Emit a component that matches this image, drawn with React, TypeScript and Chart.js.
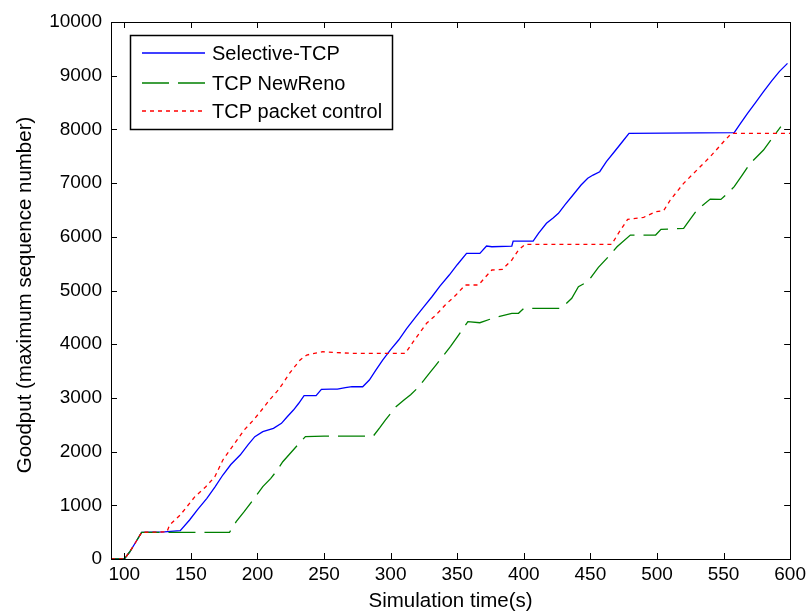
import React, { useEffect, useRef } from "react";
import { Chart, registerables } from "chart.js";

Chart.register(...registerables);

// ---- data ----
const xTicks = [100, 150, 200, 250, 300, 350, 400, 450, 500, 550, 600];
const yTicks = [0, 1000, 2000, 3000, 4000, 5000, 6000, 7000, 8000, 9000, 10000];

const selectiveT = [90, 100, 104, 109, 113, 120, 130, 142, 149, 155, 162, 168, 174, 180, 187, 193, 198, 204, 212, 218, 222, 227, 231, 235, 244, 248, 255, 260, 266, 271, 279, 284, 289, 294, 300, 306, 312, 319, 325, 331, 337, 344, 350, 357, 367, 372, 376, 391, 392, 407, 411, 417, 422, 426, 431, 436, 443, 448, 452, 457, 462, 468, 474, 479, 558, 563, 568, 574, 580, 586, 592, 598];
const selectiveV = [0, 0, 130, 330, 497, 500, 505, 527, 726, 920, 1130, 1340, 1564, 1760, 1936, 2130, 2278, 2371, 2433, 2526, 2640, 2774, 2900, 3041, 3041, 3160, 3162, 3165, 3190, 3208, 3208, 3333, 3520, 3705, 3900, 4078, 4290, 4512, 4700, 4884, 5080, 5288, 5480, 5692, 5692, 5828, 5815, 5828, 5921, 5921, 6065, 6251, 6350, 6437, 6600, 6750, 6964, 7089, 7150, 7212, 7400, 7584, 7770, 7927, 7939, 8120, 8299, 8500, 8702, 8900, 9080, 9230];

const newRenoT = [90, 100, 104, 109, 113, 130, 150, 170, 179, 184, 190, 197, 204, 210, 215, 219, 224, 229, 236, 250, 270, 287, 292, 296, 304, 310, 315, 320, 325, 329, 334, 339, 345, 351, 358, 367, 374, 381, 391, 396, 400, 415, 428, 436, 441, 448, 456, 464, 470, 480, 499, 503, 520, 525, 530, 540, 548, 553, 558, 564, 570, 575, 580, 586, 593];
const newRenoV = [0, 0, 130, 330, 497, 497, 497, 497, 497, 695, 881, 1110, 1347, 1502, 1660, 1812, 1950, 2091, 2278, 2290, 2290, 2290, 2450, 2588, 2836, 2960, 3060, 3178, 3330, 3458, 3610, 3768, 3960, 4171, 4419, 4400, 4460, 4512, 4575, 4575, 4668, 4668, 4668, 4854, 5071, 5164, 5430, 5642, 5815, 6033, 6033, 6139, 6157, 6330, 6498, 6703, 6697, 6810, 6933, 7150, 7368, 7490, 7616, 7820, 8050];

const packetT = [90, 100, 104, 109, 113, 120, 132, 134, 142, 153, 161, 168, 174, 182, 190, 197, 203, 209, 215, 220, 224, 232, 237, 249, 270, 290, 311, 317, 322, 327, 334, 341, 349, 356, 366, 371, 376, 384, 391, 396, 401, 430, 466, 471, 478, 490, 499, 505, 510, 520, 530, 540, 550, 556, 600];
const packetV = [0, 0, 130, 330, 497, 500, 505, 633, 819, 1160, 1340, 1533, 1844, 2123, 2402, 2588, 2770, 2961, 3130, 3302, 3458, 3706, 3799, 3860, 3830, 3830, 3830, 4047, 4220, 4389, 4544, 4730, 4916, 5102, 5102, 5246, 5382, 5395, 5568, 5754, 5860, 5860, 5860, 6065, 6326, 6363, 6467, 6486, 6685, 6996, 7244, 7492, 7771, 7927, 7927];

const seriesNames = ["Selective-TCP", "TCP NewReno", "TCP packet control"];
const seriesColors = ["#0000ff", "#008000", "#ff0000"];
const seriesDashes: number[][] = [[], [27, 9], [4, 4]];
const xTitle = "Simulation time(s)";
const yTitle = "Goodput (maximum sequence number)";

const FONT = "'Liberation Sans', Arial, Helvetica, sans-serif";

const toPoints = (t: number[], v: number[]) => t.map((x, i) => ({ x, y: v[i] }));

const framePlugin = {
  id: "matlabFrame",
  afterDatasetsDraw(chart: any) {
    const { ctx, chartArea: a, scales } = chart;
    const xs = scales.x;
    const ys = scales.y;
    ctx.save();
    ctx.strokeStyle = "#000";
    ctx.lineWidth = 1;
    ctx.setLineDash([]);
    // frame
    ctx.strokeRect(Math.round(a.left) + 0.5, Math.round(a.top) + 0.5, Math.round(a.right - a.left), Math.round(a.bottom - a.top));
    const tl = 6;
    ctx.beginPath();
    xTicks.forEach((v) => {
      const px = Math.round(xs.getPixelForValue(v)) + 0.5;
      ctx.moveTo(px, a.bottom);
      ctx.lineTo(px, a.bottom - tl);
      ctx.moveTo(px, a.top);
      ctx.lineTo(px, a.top + tl);
    });
    yTicks.forEach((v) => {
      const py = Math.round(ys.getPixelForValue(v)) + 0.5;
      ctx.moveTo(a.left, py);
      ctx.lineTo(a.left + tl, py);
      ctx.moveTo(a.right, py);
      ctx.lineTo(a.right - tl, py);
    });
    ctx.stroke();

    // y axis title
    ctx.save();
    ctx.font = `20.5px ${FONT}`;
    ctx.fillStyle = "#000";
    ctx.textAlign = "center";
    ctx.textBaseline = "middle";
    ctx.translate(25, 295);
    ctx.rotate(-Math.PI / 2);
    ctx.fillText(yTitle, 0, 0);
    ctx.restore();

    // legend
    ctx.font = `20px ${FONT}`;
    const lx = Math.round(a.left) + 19;
    const ly = Math.round(a.top) + 13;
    const textW = Math.max(...seriesNames.map((n) => ctx.measureText(n).width));
    const w = Math.round(82 + textW + 10);
    const h = 94;
    ctx.fillStyle = "#fff";
    ctx.fillRect(lx, ly, w, h);
    ctx.strokeStyle = "#000";
    ctx.lineWidth = 1.5;
    ctx.strokeRect(lx + 0.5, ly + 0.5, w, h);
    const rows = [ly + 18, ly + 48, ly + 76];
    seriesNames.forEach((name, i) => {
      ctx.strokeStyle = seriesColors[i];
      ctx.lineWidth = 1.5;
      ctx.setLineDash(seriesDashes[i]);
      ctx.beginPath();
      ctx.moveTo(lx + 12, rows[i]);
      ctx.lineTo(lx + 75, rows[i]);
      ctx.stroke();
      ctx.setLineDash([]);
      ctx.fillStyle = "#000";
      ctx.textBaseline = "middle";
      ctx.textAlign = "left";
      ctx.fillText(name, lx + 82, rows[i] + 1);
    });
    ctx.restore();
  },
};

export default function App() {
  const ref = useRef<HTMLCanvasElement | null>(null);
  useEffect(() => {
    if (!ref.current) return;
    const chart = new Chart(ref.current, {
      type: "line",
      data: {
        datasets: [
          { label: seriesNames[0], data: toPoints(selectiveT, selectiveV), borderColor: seriesColors[0], borderDash: seriesDashes[0], order: 2 },
          { label: seriesNames[1], data: toPoints(newRenoT, newRenoV), borderColor: seriesColors[1], borderDash: seriesDashes[1], order: 1 },
          { label: seriesNames[2], data: toPoints(packetT, packetV), borderColor: seriesColors[2], borderDash: seriesDashes[2], order: 0 },
        ].map((d) => ({ ...d, borderWidth: 1.3, pointRadius: 0, tension: 0, fill: false })),
      },
      options: {
        responsive: false,
        animation: false,
        events: [],
        layout: { padding: { left: 0, right: 17, top: 22, bottom: 0 } },
        plugins: { legend: { display: false }, tooltip: { enabled: false } },
        scales: {
          x: {
            type: "linear",
            min: 90,
            max: 600,
            afterBuildTicks: (s: any) => {
              s.ticks = xTicks.map((v) => ({ value: v }));
            },
            afterFit: (s: any) => {
              s.height = 55;
            },
            grid: { display: false, drawTicks: false },
            border: { display: false },
            ticks: { color: "#000", font: { family: FONT, size: 19 }, padding: 4, maxRotation: 0, autoSkip: false, callback: (v: any) => String(v) },
            title: { display: true, text: xTitle, color: "#000", font: { family: FONT, size: 20.5 }, padding: { top: 0, bottom: 0 } },
          },
          y: {
            type: "linear",
            min: 0,
            max: 10000,
            afterBuildTicks: (s: any) => {
              s.ticks = yTicks.map((v) => ({ value: v }));
            },
            afterFit: (s: any) => {
              s.width = 111;
            },
            grid: { display: false, drawTicks: false },
            border: { display: false },
            ticks: { color: "#000", font: { family: FONT, size: 19 }, padding: 9, autoSkip: false, callback: (v: any) => String(v) },
            title: { display: false },
          },
        },
      },
      plugins: [framePlugin],
    } as any);
    return () => chart.destroy();
  }, []);
  return (
    <div style={{ position: "absolute", left: 0, top: 0, width: 810, height: 614, background: "#fff" }}>
      <canvas ref={ref} width={810} height={614} style={{ display: "block" }} />
    </div>
  );
}
